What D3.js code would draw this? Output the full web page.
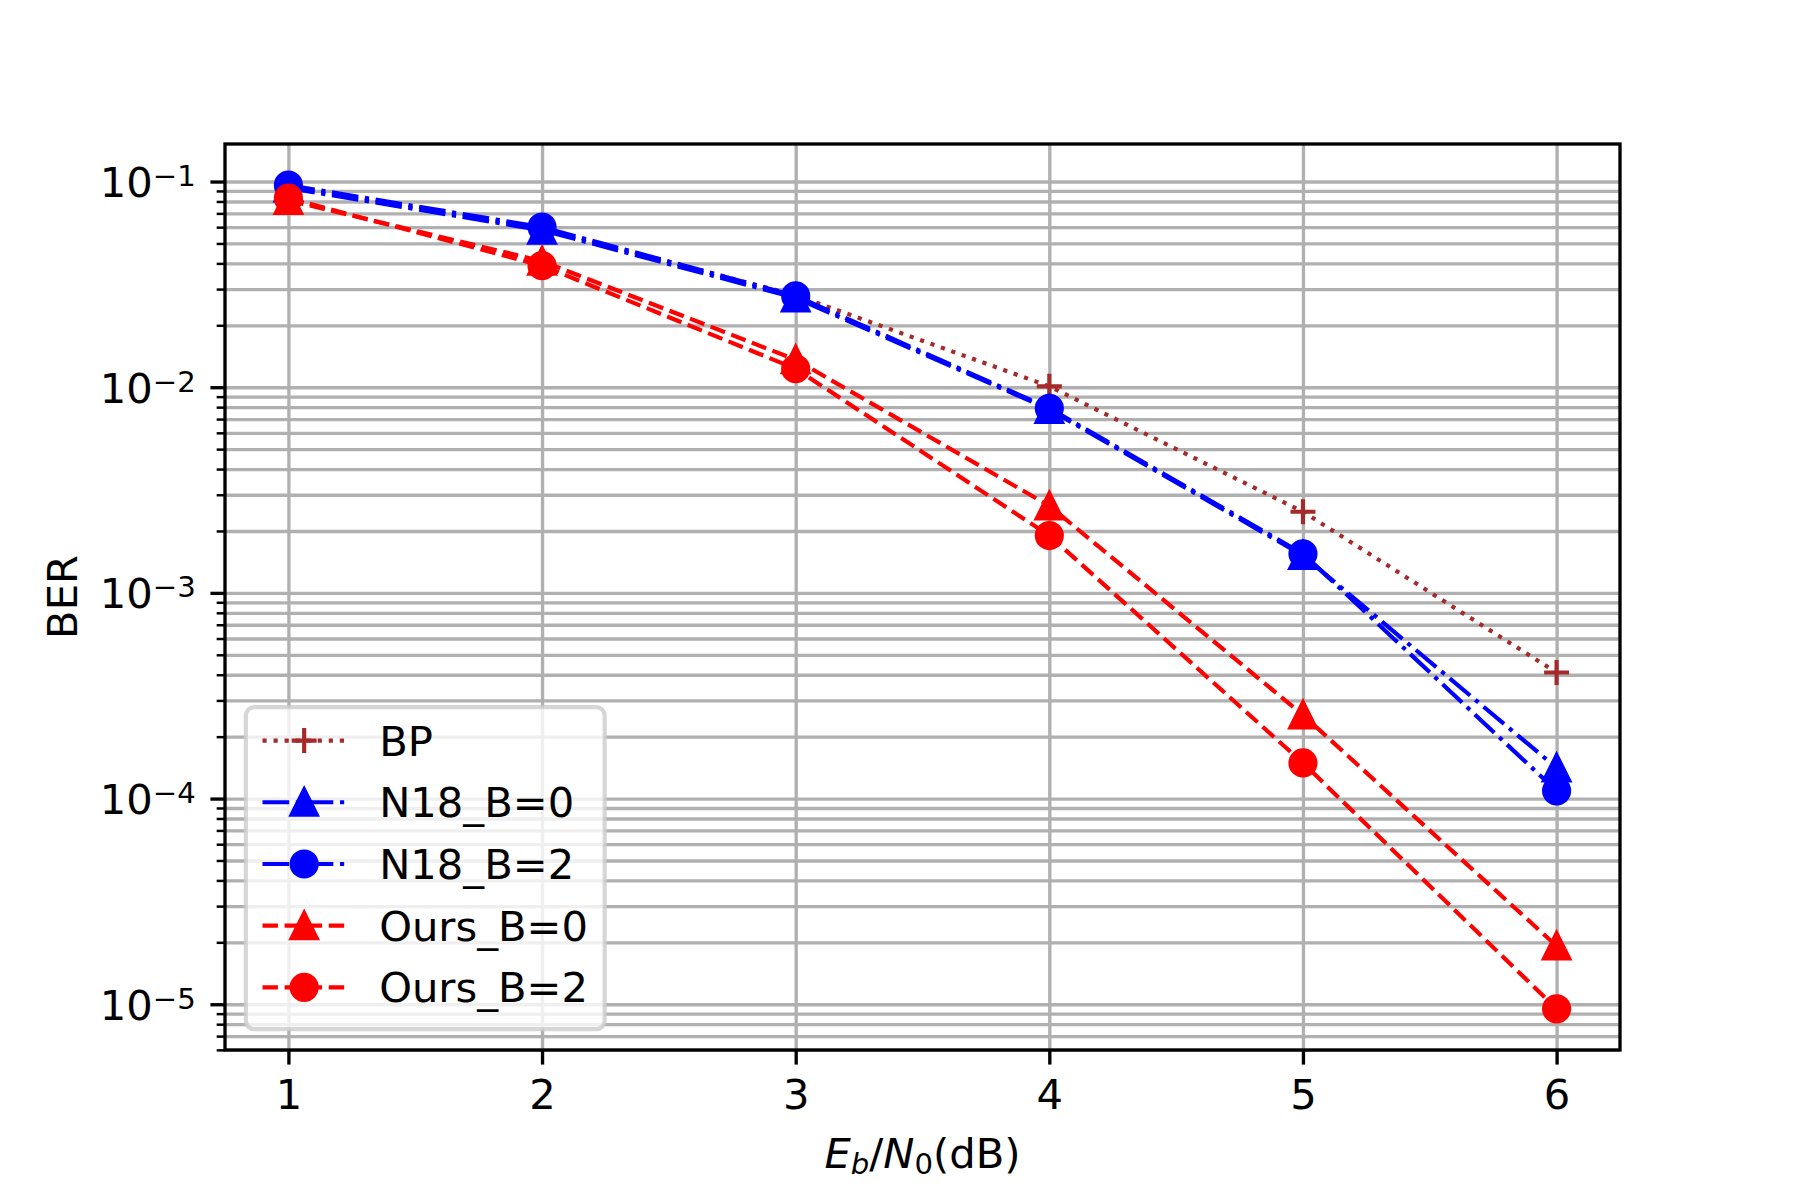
<!DOCTYPE html>
<html>
<head>
<meta charset="utf-8">
<script src="https://cdn.jsdelivr.net/npm/d3@7"></script>
<style>
body { margin: 0; background: #fff; }
svg { display: block; font-family: "DejaVu Sans", sans-serif; }
</style>
</head>
<body>
<svg id="chart" width="1800" height="1200"></svg>
<script>
// Data
const snr = [1, 2, 3, 4, 5, 6];
const berBP = [0.094, 0.059, 0.028, 0.0101, 0.00248, 0.00041];
const berN18B0 = [0.093, 0.058, 0.0272, 0.0078, 0.00152, 0.000141];
const berN18B2 = [0.096, 0.060, 0.0278, 0.0079, 0.00155, 0.000109];
const berOursB0 = [0.081, 0.041, 0.0136, 0.00265, 0.000255, 0.0000192];
const berOursB2 = [0.083, 0.039, 0.0123, 0.00190, 0.000149, 0.0000095];
const seriesNames = ["BP", "N18_B=0", "N18_B=2", "Ours_B=0", "Ours_B=2"];
const seriesValues = [berBP, berN18B0, berN18B2, berOursB0, berOursB2];
const yTickExponents = [-1, -2, -3, -4, -5];
const xTickLabels = ["1", "2", "3", "4", "5", "6"];

const pt = 300 / 72;
const fontSize = 10 * pt;

// Line / marker styles per series (matplotlib-like)
const styles = {
    "BP": { color: "#a52a2a", dash: [1, 1.65], marker: "+" },
    "N18_B=0": { color: "#0000ff", dash: [6.4, 1.6, 1, 1.6], marker: "^" },
    "N18_B=2": { color: "#0000ff", dash: [6.4, 1.6, 1, 1.6], marker: "o" },
    "Ours_B=0": { color: "#ff0000", dash: [3.7, 1.6], marker: "^" },
    "Ours_B=2": { color: "#ff0000", dash: [3.7, 1.6], marker: "o" },
};

const svg = d3.select("#chart");
const margin = { left: 225, top: 144, right: 180, bottom: 150 };
const width = 1800 - margin.left - margin.right;
const height = 1200 - margin.top - margin.bottom;

// Scales
const x = d3.scaleLinear().domain([0.75, 6.25]).range([0, width]);
const allBer = seriesValues.flat();
const logMin = Math.log10(d3.min(allBer));
const logMax = Math.log10(d3.max(allBer));
const logPad = 0.05 * (logMax - logMin);
const y = d3.scaleLog()
    .domain([Math.pow(10, logMin - logPad), Math.pow(10, logMax + logPad)])
    .range([height, 0]);

const majorY = yTickExponents.map(e => Math.pow(10, e));
const minorY = [];
for (let e = -7; e <= 0; e++) {
    for (let k = 2; k <= 9; k++) {
        const v = k * Math.pow(10, e);
        if (v >= y.domain()[0] && v <= y.domain()[1]) minorY.push(v);
    }
}

const plot = svg.append("g").attr("transform", `translate(${margin.left},${margin.top})`);

svg.append("defs").append("clipPath").attr("id", "clip")
    .append("rect").attr("width", width).attr("height", height);

// Grid
const gridColor = "#b0b0b0";
plot.append("g")
    .attr("transform", `translate(0,${height})`)
    .call(d3.axisBottom(x).tickValues(snr).tickSize(-height).tickFormat(""))
    .call(g => g.select(".domain").remove())
    .call(g => g.selectAll("line").attr("stroke", gridColor).attr("stroke-width", 0.8 * pt));

plot.append("g")
    .call(d3.axisLeft(y).tickValues(majorY.concat(minorY)).tickSize(-width).tickFormat(""))
    .call(g => g.select(".domain").remove())
    .call(g => g.selectAll("line").attr("stroke", gridColor).attr("stroke-width", 0.8 * pt));

// Markers
function drawMarker(g, type, color) {
    const r = 3 * pt;
    if (type === "o") {
        g.append("circle").attr("r", r)
            .attr("fill", color).attr("stroke", color).attr("stroke-width", pt);
    } else if (type === "^") {
        g.append("path").attr("d", `M0,${-r}L${r},${r}L${-r},${r}Z`)
            .attr("fill", color).attr("stroke", color).attr("stroke-width", pt)
            .attr("stroke-linejoin", "miter");
    } else {
        g.append("path").attr("d", `M${-r},0H${r}M0,${-r}V${r}`)
            .attr("fill", "none").attr("stroke", color).attr("stroke-width", pt);
    }
}

// Draw the series
const line = d3.line().x(d => x(d[0])).y(d => y(d[1]));
const series = plot.append("g").attr("clip-path", "url(#clip)");

seriesNames.forEach((name, i) => {
    const st = styles[name];
    const pts = d3.zip(snr, seriesValues[i]);
    series.append("path")
        .datum(pts)
        .attr("d", line)
        .attr("fill", "none")
        .attr("stroke", st.color)
        .attr("stroke-width", pt)
        .attr("stroke-linejoin", "round")
        .attr("stroke-dasharray", st.dash.map(v => v * pt).join(","));
    series.selectAll(null)
        .data(pts)
        .enter().append("g")
        .attr("transform", d => `translate(${x(d[0])},${y(d[1])})`)
        .each(function() { drawMarker(d3.select(this), st.marker, st.color); });
});

// Axes
const tickLen = 3.5 * pt;
plot.append("g")
    .attr("transform", `translate(0,${height})`)
    .call(d3.axisBottom(x).tickValues(snr).tickSize(tickLen).tickPadding(tickLen)
        .tickSizeOuter(0).tickFormat((d, i) => xTickLabels[i]))
    .call(g => g.select(".domain").remove())
    .call(g => g.selectAll("line").attr("stroke", "#000").attr("stroke-width", 0.8 * pt))
    .call(g => g.selectAll("text").attr("font-size", fontSize).attr("fill", "#000")
        .attr("font-family", "DejaVu Sans"));

plot.append("g")
    .call(d3.axisLeft(y).tickValues(minorY).tickSize(2 * pt).tickFormat("").tickSizeOuter(0))
    .call(g => g.select(".domain").remove())
    .call(g => g.selectAll("line").attr("stroke", "#000").attr("stroke-width", 0.6 * pt));

plot.append("g")
    .call(d3.axisLeft(y).tickValues(majorY).tickSize(tickLen).tickPadding(tickLen)
        .tickSizeOuter(0).tickFormat(""))
    .call(g => g.select(".domain").remove())
    .call(g => g.selectAll("line").attr("stroke", "#000").attr("stroke-width", 0.8 * pt))
    .call(g => g.selectAll("text").each(function(d, i) {
        const t = d3.select(this)
            .attr("font-size", fontSize).attr("fill", "#000")
            .attr("font-family", "DejaVu Sans")
            .attr("dy", "0.36em");
        t.append("tspan").text("10");
        t.append("tspan").attr("font-size", fontSize * 0.7).attr("dy", -11)
            .text("\u2212" + Math.abs(yTickExponents[i]));
    }));

// Spines
plot.append("rect")
    .attr("width", width).attr("height", height)
    .attr("fill", "none").attr("stroke", "#000").attr("stroke-width", 0.8 * pt);

// Axis labels
const xlab = svg.append("text")
    .attr("x", margin.left + width / 2).attr("y", 1168)
    .attr("text-anchor", "middle").attr("font-size", fontSize);
xlab.append("tspan").attr("font-style", "italic").text("E");
xlab.append("tspan").attr("font-style", "italic").attr("font-size", fontSize * 0.7).attr("dy", 6).text("b");
xlab.append("tspan").attr("dy", -6).text("/");
xlab.append("tspan").attr("font-style", "italic").text("N");
xlab.append("tspan").attr("font-size", fontSize * 0.7).attr("dy", 6).text("0");
xlab.append("tspan").attr("dy", -6).text("(dB)");

svg.append("text")
    .attr("transform", `translate(77,${margin.top + height / 2}) rotate(-90)`)
    .attr("text-anchor", "middle").attr("font-size", fontSize)
    .text("BER");

// Legend (lower left)
const pad = 0.4 * fontSize;
const legH = 322;
const rowStep = 61.7;
const firstRow = 33.4;
const handleLen = 2 * fontSize;
const handlePad = 0.8 * fontSize;
const legX = 0.5 * fontSize;
const legY = height - 0.5 * fontSize - legH;

const legend = plot.append("g").attr("transform", `translate(${legX},${legY})`);
const frame = legend.append("rect")
    .attr("height", legH).attr("rx", 0.2 * fontSize)
    .attr("fill", "#fff").attr("fill-opacity", 0.8)
    .attr("stroke", "#cccccc").attr("stroke-opacity", 0.8).attr("stroke-width", pt);

let maxText = 0;
seriesNames.forEach((name, i) => {
    const st = styles[name];
    const cy = firstRow + i * rowStep;
    legend.append("line")
        .attr("x1", pad).attr("x2", pad + handleLen).attr("y1", cy).attr("y2", cy)
        .attr("stroke", st.color).attr("stroke-width", pt)
        .attr("stroke-dasharray", st.dash.map(v => v * pt).join(","));
    const mg = legend.append("g").attr("transform", `translate(${pad + handleLen / 2},${cy})`);
    drawMarker(mg, st.marker, st.color);
    const t = legend.append("text")
        .attr("x", pad + handleLen + handlePad).attr("y", cy + 15)
        .attr("font-size", fontSize).text(name);
    maxText = Math.max(maxText, t.node().getComputedTextLength());
});
frame.attr("width", 2 * pad + handleLen + handlePad + maxText);
</script>
</body>
</html>
